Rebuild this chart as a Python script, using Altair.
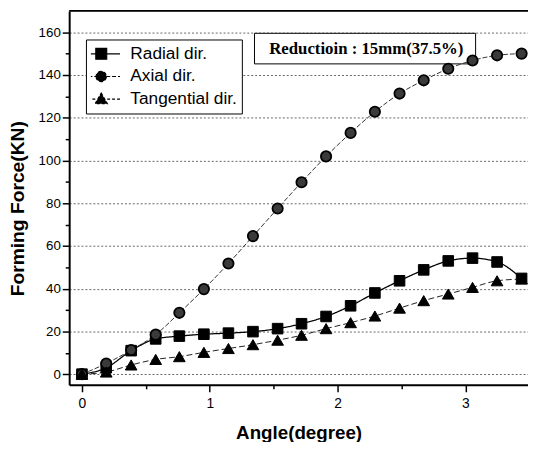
import altair as alt
import pandas as pd

# ---- data ----
angle = [0, 0.19, 0.385, 0.577, 0.762, 0.954, 1.146, 1.338, 1.531, 1.718,
         1.91, 2.102, 2.292, 2.485, 2.674, 2.866, 3.056, 3.248, 3.44]
radial = [0, 3, 11, 16.5, 17.8, 18.7, 19.2, 19.9, 21.3, 23.6,
          27, 32, 38, 43.7, 48.8, 53, 54.3, 52.5, 44.8]
axial = [0, 5, 11.3, 18.5, 28.7, 39.8, 51.8, 64.6, 77.5, 89.8,
         101.9, 112.9, 122.8, 131.3, 137.5, 142.9, 146.8, 149.2, 150]
tangential = [0, 1, 4.3, 6.9, 8.2, 10.2, 12, 13.8, 15.9, 18.2,
              21.3, 24.1, 27.2, 30.9, 34.4, 37.5, 40.6, 43.7, 44.5]
series_names = ["Radial dir.", "Axial dir.", "Tangential dir."]

x_ticks = [0, 0.5, 1, 1.5, 2, 2.5, 3]
y_ticks = [0, 10, 20, 30, 40, 50, 60, 70, 80, 90, 100, 110, 120, 130, 140, 150, 160]
x_domain = [-0.1, 3.49]
y_domain = [-5, 170]

note_text = "Reductioin : 15mm(37.5%)"
note_box = {"x": 1.35, "x2": 3.08, "y": 145.2, "y2": 159.5}
note_pos = {"x": 2.225, "y": 152.0}

# ---- tables ----
rows = []
for name, vals in zip(series_names, [radial, axial, tangential]):
    for a, v in zip(angle, vals):
        rows.append({"angle": a, "force": v, "series": name})
df = pd.DataFrame(rows)

W, H = 465, 379
FONT = "Liberation Sans"

xscale = alt.Scale(domain=x_domain, nice=False, zero=False)
yscale = alt.Scale(domain=y_domain, nice=False, zero=False)

xaxis = alt.Axis(
    values=x_ticks,
    labelExpr="datum.value % 1 === 0 ? format(datum.value, 'd') : ''",
    tickSize={"condition": {"test": "datum.value % 1 === 0", "value": 7}, "value": 4},
    tickColor="black", tickWidth=1.5,
    domainColor="black", domainWidth=2,
    labelFont=FONT, labelFontSize=14, labelColor="black", labelPadding=5,
    grid=False,
    title="Angle(degree)", titleFont=FONT, titleFontSize=19, titleFontWeight="bold",
    titleColor="black", titleY=54, titleBaseline="alphabetic",
)
yaxis = alt.Axis(
    values=y_ticks,
    labelExpr="datum.value % 20 === 0 ? format(datum.value, 'd') : ''",
    tickSize={"condition": {"test": "datum.value % 20 === 0", "value": 7}, "value": 4},
    tickColor="black", tickWidth=1.5,
    domainColor="black", domainWidth=2,
    labelFont=FONT, labelFontSize=13.5, labelColor="black", labelPadding=2,
    grid=True, gridColor="#666666", gridDash=[2, 2], gridWidth=1,
    gridOpacity={"condition": {"test": "datum.value % 20 === 0", "value": 1}, "value": 0},
    title="Forming Force(KN)", titleFont=FONT, titleFontSize=19.5, titleFontWeight="bold",
    titleColor="black", titleX=-46, titleY=200, titleBaseline="alphabetic", titleAngle=-90,
)

X = alt.X("angle:Q", scale=xscale, axis=xaxis)
Y = alt.Y("force:Q", scale=yscale, axis=yaxis)

layers = []

# top frame line
frame = pd.DataFrame({"angle": [x_domain[0]], "angle2": [x_domain[1]], "force": [y_domain[1]]})
layers.append(
    alt.Chart(frame).mark_rule(color="black", strokeWidth=2).encode(
        x=X, x2="angle2:Q", y=Y
    )
)

# annotation box
box_df = pd.DataFrame({"angle": [note_box["x"]], "angle2": [note_box["x2"]],
                       "force": [note_box["y"]], "force2": [note_box["y2"]]})
layers.append(
    alt.Chart(box_df).mark_rect(fill="white", stroke="black", strokeWidth=1).encode(
        x=X, x2="angle2:Q", y=Y, y2="force2:Q"
    )
)
txt_df = pd.DataFrame({"angle": [note_pos["x"]], "force": [note_pos["y"]], "t": [note_text]})
layers.append(
    alt.Chart(txt_df).mark_text(font="Liberation Serif", fontSize=17, fontWeight="bold",
                                color="black", align="center", baseline="middle").encode(
        x=X, y=Y, text="t:N"
    )
)

line_style = {
    "Radial dir.": dict(strokeDash=[1, 0], strokeWidth=1.3, color="black"),
    "Axial dir.": dict(strokeDash=[5, 2], strokeWidth=1, color="#333333"),
    "Tangential dir.": dict(strokeDash=[6, 3], strokeWidth=1, color="#222222"),
}
point_style = {
    "Radial dir.": dict(shape="square", size=115, fill="black", stroke="black", strokeWidth=1),
    "Axial dir.": dict(shape="circle", size=110, fill="#3a3a3a", stroke="black", strokeWidth=1.8),
    "Tangential dir.": dict(shape="triangle-up", size=140, fill="black", stroke="black", strokeWidth=1),
}

for name in series_names:
    base = alt.Chart(df).transform_filter(alt.datum.series == name)
    layers.append(base.mark_line(interpolate="monotone", **line_style[name]).encode(x=X, y=Y))
for name in series_names:
    base = alt.Chart(df).transform_filter(alt.datum.series == name)
    layers.append(base.mark_point(filled=True, opacity=1, **point_style[name]).encode(x=X, y=Y))

# legend (drawn by the library from an empty layer)
legend_paths = [
    "M-2,0H2M-0.58,-0.58H0.58V0.58H-0.58Z",
    "M-2,0H2M-0.55,0A0.55,0.55 0 1,0 0.55,0A0.55,0.55 0 1,0 -0.55,0Z",
    "M-2,0H2M0,-0.65L0.65,0.48H-0.65Z",
]
legend_dashes = [[1, 0], [4, 2], [3, 2]]
legend_strokes = ["black", "black", "black"]
leg = alt.Legend(
    title=None, orient="none", legendX=17, legendY=29,
    strokeColor="black", fillColor="white", padding=5,
    labelFont=FONT, labelFontSize=17.5, labelColor="black", labelLimit=300,
    labelOffset=19, rowPadding=4, symbolSize=361, symbolStrokeWidth=1.2,
    symbolStrokeColor="black", symbolFillColor="black", clipHeight=19,
    symbolOpacity=1,
)
layers.append(
    alt.Chart(df).transform_filter("datum.force < -1000").mark_point(
        filled=True, fill="black", strokeWidth=1.2, opacity=1
    ).encode(
        x=X, y=Y,
        shape=alt.Shape("series:N", scale=alt.Scale(domain=series_names, range=legend_paths), legend=leg),
        strokeDash=alt.StrokeDash("series:N", scale=alt.Scale(domain=series_names, range=legend_dashes), legend=leg),
        stroke=alt.Stroke("series:N", scale=alt.Scale(domain=series_names, range=legend_strokes), legend=leg),
    )
)

chart = alt.layer(*layers).properties(
    width=W, height=H,
    padding={"left": 62, "top": 0, "right": 0, "bottom": 55},
    autosize=alt.AutoSizeParams(type="none"),
).configure_view(stroke=None).configure(background="white")

chart.save("out.html", embed_options={"renderer": "svg", "actions": False})
